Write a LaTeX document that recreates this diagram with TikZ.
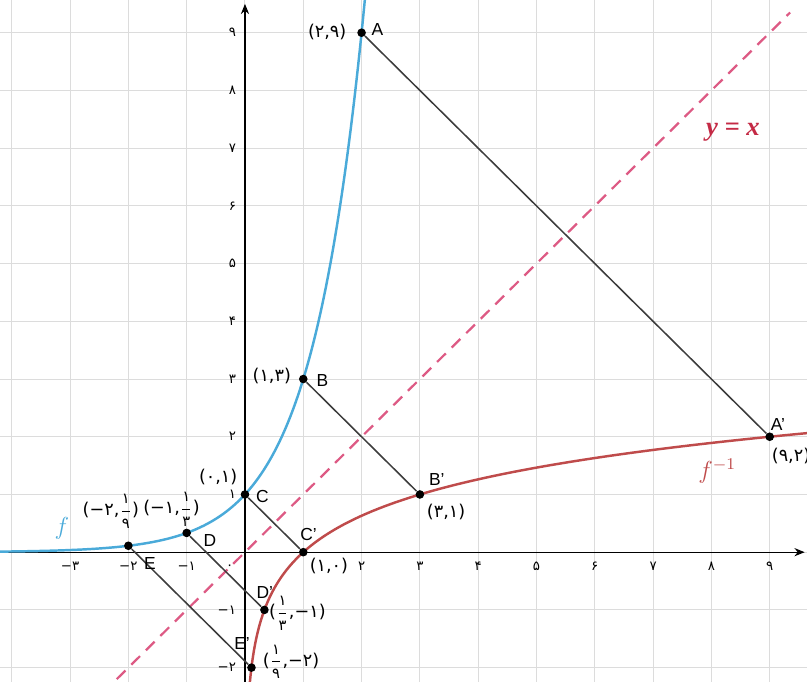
\documentclass[tikz,border=0pt]{standalone}
\usepackage{fontspec}
\setmainfont{Liberation Sans}
\newfontfamily\pf{DejaVu Sans}
\newfontfamily\lserif{Liberation Serif}
\usetikzlibrary{arrows.meta}
\definecolor{fblue}{HTML}{4AAAD9}
\definecolor{fred}{HTML}{BF4B4B}
\definecolor{dpink}{HTML}{DD5A84}
\definecolor{gridc}{HTML}{DCDCDC}
\definecolor{segc}{HTML}{3C3C3C}
\definecolor{lblred}{HTML}{C42A45}
\newcommand{\smd}{\fontsize{7.2}{8}\selectfont\pf}
\newcommand{\pfrac}[2]{\ensuremath{{\displaystyle\frac{\hbox{\smd #1}}{\hbox{\smd #2}}}}}
\tikzset{
  dotpt/.style={circle,fill=black,inner sep=0pt,minimum size=4.2pt},
  ticklab/.style={font=\fontsize{6.5}{7}\selectfont\pf,inner sep=0.5pt},
  plab/.style={font=\fontsize{8.6}{10}\selectfont\pf,inner sep=0.3pt},
  letter/.style={font=\fontsize{8.5}{9}\selectfont,inner sep=0.5pt},
  segline/.style={segc,line width=0.75pt},
  gridline/.style={gridc,line width=0.5pt}
}
\begin{document}
\begin{tikzpicture}[x=1cm,y=0.99cm]
\useasboundingbox (-4.202,-2.249) rectangle (9.640,9.567);
\begin{scope}
\clip (-4.202,-2.249) rectangle (9.640,9.567);
% grid
\foreach \i in {-4,...,9} \draw[gridline] (\i,-2.249) -- (\i,9.567);
\foreach \j in {-2,...,9} \draw[gridline] (-4.202,\j) -- (9.640,\j);
% axes
\draw[line width=0.6pt,-{Stealth[length=5pt,width=4pt]}] (-4.202,0) -- (9.60,0);
\draw[line width=0.6pt,-{Stealth[length=5pt,width=4pt]}] (0,-2.249) -- (0,9.50);
% tick labels
\foreach \v/\t in {-3/−۳,-2/−۲,-1/−۱,2/۲,3/۳,4/۴,5/۵,6/۶,7/۷,8/۸,9/۹}
  \node[ticklab] at (\v,-0.24) {\t};
\foreach \v/\t in {1/۱,2/۲,3/۳,4/۴,5/۵,6/۶,7/۷,8/۸,9/۹}
  \node[ticklab,anchor=east] at (-0.13,\v) {\t};
\foreach \v/\t in {-1/−۱,-2/−۲}
  \node[ticklab,anchor=east] at (-0.13,\v) {\t};
\node[ticklab] (zero) at (-0.26,-0.26) {۰};
% y = x
\draw[dpink,line width=1.1pt,dash pattern=on 6pt off 4pt] (-2.2,-2.2) -- (9.35,9.35);
% curves
\draw[fblue,line width=1.2pt] plot[domain=-4.202:2.06,samples=150,smooth] (\x,{exp(\x*ln(3))});
\draw[fred,line width=1.2pt] plot[domain=-2.249:2.07,samples=150,smooth] ({exp(\x*ln(3))},\x);
\end{scope}
% points
\node[dotpt] (A) at (2,9) {};
\node[dotpt] (B) at (1,3) {};
\node[dotpt] (C) at (0,1) {};
\node[dotpt] (D) at (-1,1/3) {};
\node[dotpt] (E) at (-2,1/9) {};
\node[dotpt] (Ap) at (9,2) {};
\node[dotpt] (Bp) at (3,1) {};
\node[dotpt] (Cp) at (1,0) {};
\node[dotpt] (Dp) at (1/3,-1) {};
\node[dotpt] (Ep) at (1/9,-2) {};
% segments
\draw[segline] (A) -- (Ap);
\draw[segline] (B) -- (Bp);
\draw[segline] (C) -- (Cp);
\draw[segline] (D) -- (Dp);
\draw[segline] (E) -- (Ep);
% letters
\node[letter] (lA) at (2.27,9.05) {A};
\node[letter] (lB) at (1.33,2.98) {B};
\node[letter] (lC) at (0.30,0.97) {C};
\node[letter] (lD) at (-0.60,0.20) {D};
\node[letter] (lE) at (-1.63,-0.19) {E};
\node[letter] (lAp) at (9.14,2.22) {A'};
\node[letter] (lBp) at (3.29,1.26) {B'};
\node[letter] (lCp) at (1.09,0.31) {C'};
\node[letter] (lDp) at (0.34,-0.70) {D'};
\node[letter] (lEp) at (-0.05,-1.58) {E'};
% coordinate labels
\node[plab] (cA) at (1.41,9.01) {(۲,۹)};
\node[plab] (cB) at (0.46,3.06) {(۱,۳)};
\node[plab] (cC) at (-0.46,1.31) {(۰,۱)};
\node[plab] (cD) at (-1.26,0.74) {(−۱,\pfrac{۱}{۳})};
\node[plab] (cE) at (-2.30,0.71) {(−۲,\pfrac{۱}{۹})};
\node[plab,anchor=west] (cAp) at (9.02,1.66) {(۹,۲)};
\node[plab] (cBp) at (3.45,0.69) {(۳,۱)};
\node[plab] (cCp) at (1.44,-0.24) {(۱,۰)};
\node[plab] (cDp) at (0.90,-1.06) {(\pfrac{۱}{۳},−۱)};
\node[plab] (cEp) at (0.79,-1.90) {(\pfrac{۱}{۹},−۲)};
% function labels
\node[fblue,font=\fontsize{12}{13}\selectfont] (lf) at (-3.14,0.42) {$f$};
\node[fred,font=\fontsize{12}{13}\selectfont] (lfi) at (8.10,1.40) {$f^{-1}$};
\node[lblred,font=\fontsize{13}{14}\selectfont\lserif\bfseries\itshape] (lyx) at (8.37,7.27) {y = x};
\end{tikzpicture}
\end{document}
